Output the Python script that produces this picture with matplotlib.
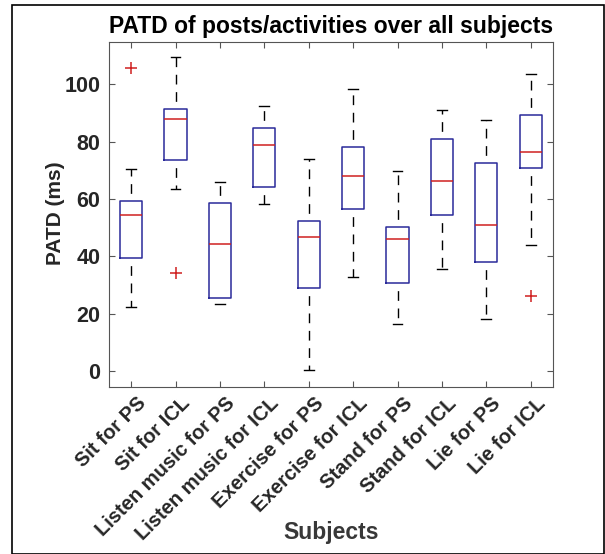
import matplotlib
matplotlib.use("Agg")
import matplotlib.pyplot as plt
import matplotlib.transforms as mtransforms
from matplotlib.patches import Rectangle

plt.rcParams['font.family'] = ['Liberation Sans', 'DejaVu Sans']
plt.rcParams['font.weight'] = 'bold'

# categories on the x axis
labels = ['Sit for PS', 'Sit for ICL', 'Listen music for PS', 'Listen music for ICL',
          'Exercise for PS', 'Exercise for ICL', 'Stand for PS', 'Stand for ICL',
          'Lie for PS', 'Lie for ICL']

# box statistics (ms)
whislo = [22.2, 63.6, 23.5, 58.1, 0.3, 32.7, 16.3, 35.5, 18.2, 43.9]
q1     = [39.4, 73.5, 25.5, 64.1, 29.1, 56.7, 30.8, 54.5, 38.1, 70.9]
med    = [54.4, 88.0, 44.4, 78.9, 46.9, 68.1, 45.9, 66.3, 50.8, 76.3]
q3     = [59.4, 91.3, 58.6, 84.9, 52.2, 78.0, 50.3, 80.8, 72.7, 89.3]
whishi = [70.3, 109.4, 65.8, 92.5, 74.1, 98.5, 69.8, 91.2, 87.5, 103.6]
fliers = [[105.6], [34.2], [], [], [], [], [], [], [], [26.2]]

stats = []
for i in range(len(labels)):
    stats.append(dict(whislo=whislo[i], q1=q1[i], med=med[i], q3=q3[i],
                      whishi=whishi[i], fliers=fliers[i], label=labels[i]))

fig = plt.figure(figsize=(6.05, 5.54), dpi=100)
ax = fig.add_axes([0.180, 0.301, 0.734, 0.623])

ax.bxp(stats, widths=0.5, capwidths=0.22, showfliers=True,
       boxprops=dict(color='#2a2a9a', linewidth=1.1),
       medianprops=dict(color='#d02020', linewidth=1.1),
       whiskerprops=dict(color='black', linewidth=1.0, linestyle=(7, (7, 5.5))),
       capprops=dict(color='black', linewidth=1.0),
       flierprops=dict(marker='+', markeredgecolor='#d02020', markersize=8,
                       markeredgewidth=1.1, linestyle='none'))

ax.set_xlim(0.5, 10.5)
ax.set_ylim(-5.6, 114.7)
ax.set_yticks([0, 20, 40, 60, 80, 100])

gray = '#555555'
for s in ax.spines.values():
    s.set_color(gray)
ax.tick_params(direction='in', top=True, right=True, length=4, color=gray,
               labelcolor='#262626', pad=6)
ax.tick_params(axis='y', labelsize=15.5)
ax.tick_params(axis='x', labelsize=14.5)

ax.set_xticklabels(labels, rotation=45, ha='right', rotation_mode='anchor')
off = mtransforms.ScaledTranslation(5 / 100, 2 / 100, fig.dpi_scale_trans)
for t in ax.get_xticklabels():
    t.set_transform(t.get_transform() + off)

ax.set_title('PATD of posts/activities over all subjects', fontsize=16.5,
             fontweight='bold', pad=6.5)
ax.set_ylabel('PATD (ms)', fontsize=15, color='#262626', fontweight='bold')
ax.yaxis.set_label_coords(-0.099, 0.505)
fig.text(0.5 * (0.180 + 0.914), 1 - 533 / 554, 'Subjects', fontsize=16.5,
         color='#383838', ha='center', va='center', fontweight='bold')

# outer frame around the figure
fig.patches.append(Rectangle((12 / 605, 0.0), (604 - 12) / 605, 1 - 5 / 554,
                             transform=fig.transFigure, fill=False,
                             edgecolor='black', linewidth=1.2))

fig.savefig('out.png', dpi=100)
